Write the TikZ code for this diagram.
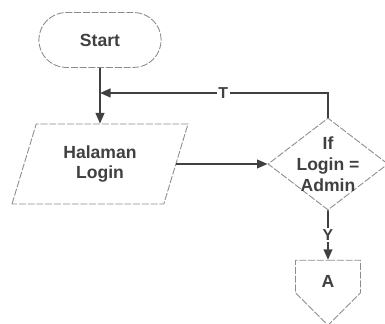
\documentclass[tikz,border=0pt]{standalone}
\usepackage{fontspec}
\setmainfont{Liberation Sans}
\usetikzlibrary{arrows.meta,shapes.geometric,shapes.misc,shapes.symbols}

\begin{document}
\begin{tikzpicture}[
		box/.style={draw=black!45, line width=0.5pt, dash pattern=on 4pt off 1pt, text=black!75, align=center, font=\bfseries\fontsize{10}{11}\selectfont},
		conn/.style={line width=0.9pt, color=black!75, -{Triangle[length=6pt,width=5pt]}},
		lbl/.style={fill=white, inner sep=1pt, text=black!75, font=\bfseries\fontsize{9}{10}\selectfont}
	]
		%%%%% START %%%%%
		
		\useasboundingbox (0, 0) rectangle (7.7, 6.48);
		
		\node[box, rounded rectangle, minimum width=2.68cm, minimum height=1.1cm] (start) at (2.0, 5.68) {Start};
		\node[box, trapezium, trapezium left angle=63, trapezium right angle=117, trapezium stretches body, minimum width=3.52cm, minimum height=1.6cm] (login) at (2.0, 3.2) {Halaman\\Login};
		
		\node[box, diamond, aspect=1.3, inner sep=-3pt, minimum width=2.4cm, minimum height=1.84cm, font=\bfseries\fontsize{10}{12}\selectfont] (cek) at (6.56, 3.2) {If\\Login =\\Admin};
		\node[box, signal, signal to=south, signal pointer angle=90, minimum width=1.3cm, inner ysep=0.1cm, text height=0.45cm, text depth=0cm] (hal) at (6.56, 0.95) {A};
		
		\coordinate (balik) at (2.0, 4.62);
		
		\draw[conn] (start) -- (login);
		\draw[conn] (login) -- (cek);
		\draw[conn] (cek.north) |- node[lbl, pos=0.73] {T} (balik);
		\draw[conn] (cek) -- node[lbl] {Y} (hal);
		
		%%%%% END %%%%%
	\end{tikzpicture}
\end{document}
